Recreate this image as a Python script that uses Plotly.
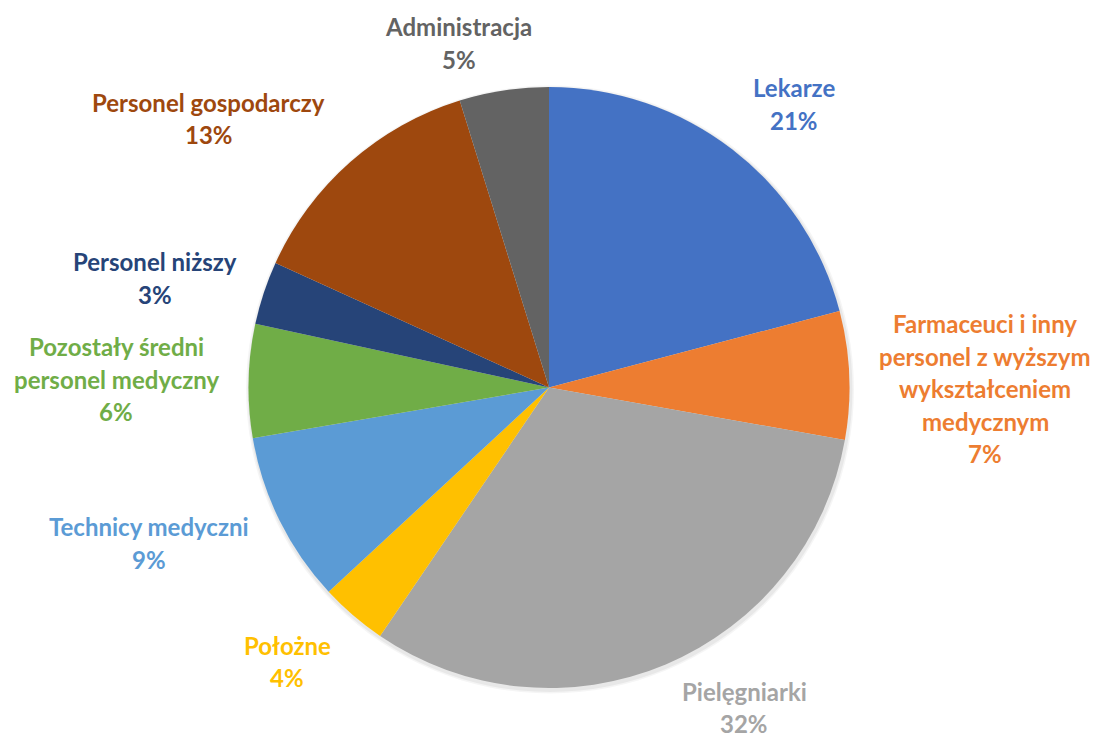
import math
import plotly.graph_objects as go

# ---- data ----
categories = [
    "Lekarze",
    "Farmaceuci i inny personel z wyższym wykształceniem medycznym",
    "Pielęgniarki",
    "Położne",
    "Technicy medyczni",
    "Pozostały średni personel medyczny",
    "Personel niższy",
    "Personel gospodarczy",
    "Administracja",
]
label_lines = [
    ["Lekarze"],
    ["Farmaceuci i inny", "personel z wyższym", "wykształceniem", "medycznym"],
    ["Pielęgniarki"],
    ["Położne"],
    ["Technicy medyczni"],
    ["Pozostały średni", "personel medyczny"],
    ["Personel niższy"],
    ["Personel gospodarczy"],
    ["Administracja"],
]
shares = [20.9, 6.9, 31.7, 3.6, 9.2, 6.1, 3.4, 13.4, 4.8]

# ---- style ----
colors = ["#4472C4", "#ED7D31", "#A5A5A5", "#FFC000", "#5B9BD5",
          "#70AD47", "#264478", "#9E480E", "#636363"]
text_colors = colors
# label nudges (px) relative to a radial placement
nudges = [(21, 7), (70, 16), (53, -18), (-23, -4), (-71, -7),
          (-66, 0), (-46, 6), (-98, 6), (-35, 18)]

W, H = 1097, 740
CX, CY, R = 549.0, 387.5, 300.5
LINE_H = 32.5
FONT = "Lato"
FSIZE = 24


def dom(cx, cy, r):
    return dict(x=[(cx - r) / W, (cx + r) / W], y=[1 - (cy + r) / H, 1 - (cy - r) / H])


fig = go.Figure()
# soft shadow behind the pie
for dr, a in [(3.5, 0.04), (2, 0.05)]:
    fig.add_trace(go.Pie(
        values=[1], labels=["shadow"], sort=False,
        marker=dict(colors=[f"rgba(0,0,0,{a})"], line=dict(width=0)),
        textinfo="none", hoverinfo="skip", showlegend=False,
        domain=dom(CX + 1, CY + 2, R + dr),
    ))

fig.add_trace(go.Pie(
    labels=categories,
    values=shares,
    sort=False,
    direction="clockwise",
    rotation=0,
    marker=dict(colors=colors, line=dict(width=0)),
    textinfo="none",
    hoverinfo="label+percent",
    showlegend=False,
    domain=dom(CX, CY, R),
))

total = sum(shares)
cum = 0.0
annotations = []
for i, v in enumerate(shares):
    mid = (cum + v / 2) / total * 2 * math.pi
    cum += v
    rr = R * 1.22
    bx = CX + rr * math.sin(mid) + nudges[i][0]
    by = CY - rr * math.cos(mid) + nudges[i][1]
    lines = label_lines[i] + [f"{v / total * 100:.0f}%"]
    n = len(lines)
    for j, t in enumerate(lines):
        ly = by + (j - (n - 1) / 2) * LINE_H
        annotations.append(dict(
            x=bx / W, y=1 - ly / H, xref="paper", yref="paper",
            text=f"<b>{t}</b>", showarrow=False,
            xanchor="center", yanchor="middle",
            font=dict(family=FONT, size=FSIZE, color=text_colors[i]),
        ))

fig.update_layout(
    width=W, height=H,
    margin=dict(l=0, r=0, t=0, b=0),
    paper_bgcolor="white",
    plot_bgcolor="white",
    annotations=annotations,
)

fig.write_html(
    "out.html",
    config={"displayModeBar": False},
    post_script="document.body.style.margin='0';document.body.style.padding='0';",
)
